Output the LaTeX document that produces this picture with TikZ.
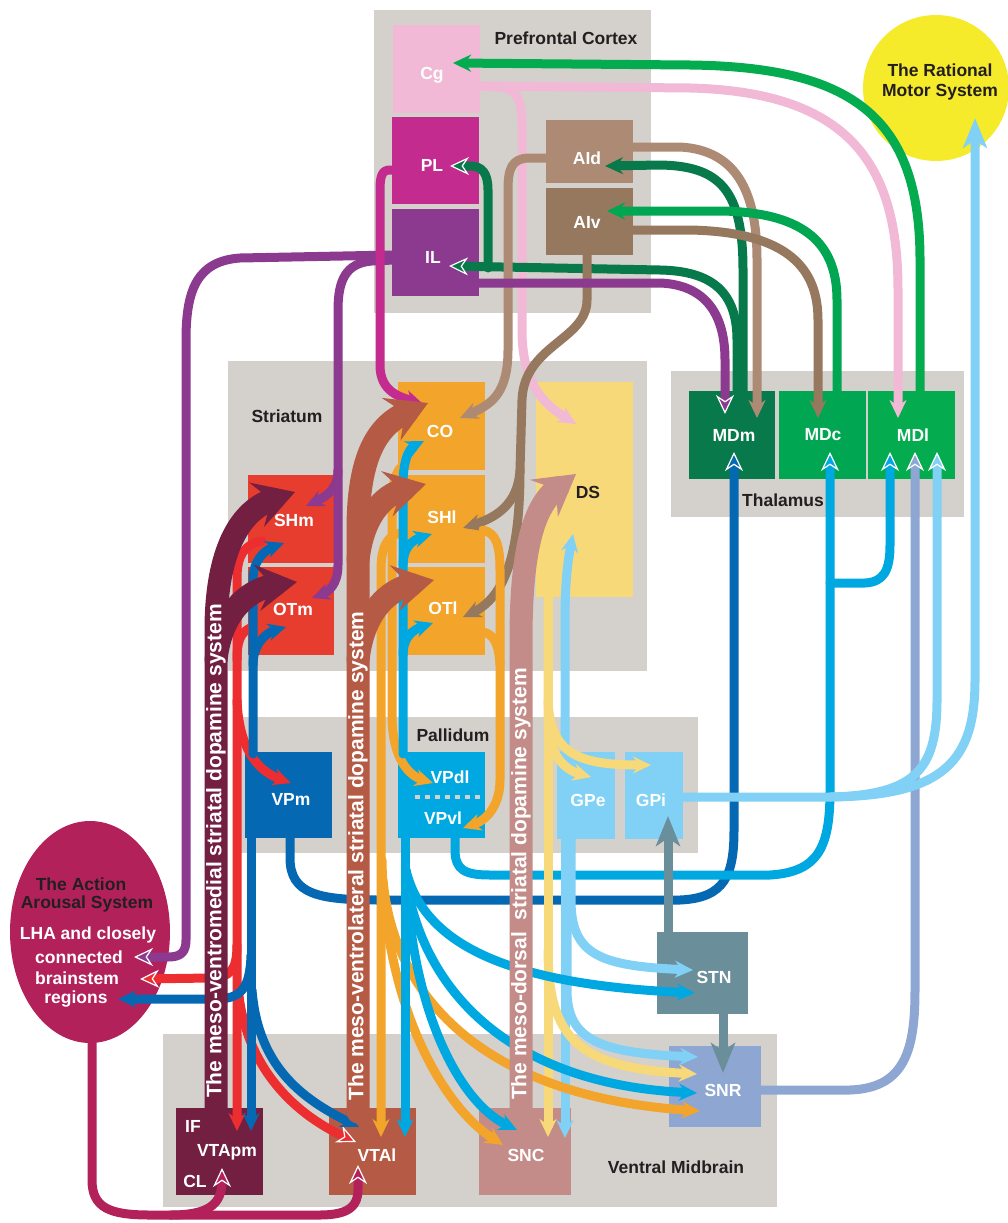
\documentclass[tikz,border=0pt]{standalone}
\usepackage{fontspec}
\setmainfont{Liberation Sans}
\usetikzlibrary{arrows.meta,shapes.geometric}
\definecolor{cgray}{HTML}{D4D0CB}
\definecolor{cCg}{HTML}{F1B9D6}
\definecolor{cPL}{HTML}{C42B8E}
\definecolor{cIL}{HTML}{8B3A8F}
\definecolor{cAId}{HTML}{AD8A74}
\definecolor{cAIv}{HTML}{96785F}
\definecolor{cMDm}{HTML}{08794A}
\definecolor{cMDc}{HTML}{00A651}
\definecolor{cMDl}{HTML}{05AB4F}
\definecolor{cYel}{HTML}{F6EB2B}
\definecolor{cRed}{HTML}{E63D2E}
\definecolor{cRedA}{HTML}{EC2E30}
\definecolor{cOr}{HTML}{F2A42B}
\definecolor{cDS}{HTML}{F8D97A}
\definecolor{cVPm}{HTML}{0568B3}
\definecolor{cVP}{HTML}{00A8E1}
\definecolor{cGP}{HTML}{80D1F5}
\definecolor{cSTN}{HTML}{6A8F9B}
\definecolor{cSNR}{HTML}{8EA6D2}
\definecolor{cVTApm}{HTML}{721F42}
\definecolor{cVTAl}{HTML}{B55B45}
\definecolor{cSNC}{HTML}{C38C88}
\definecolor{cAAS}{HTML}{B3215B}
\definecolor{cTxt}{HTML}{231F20}
\newcommand\labfont{\fontsize{17.5}{21}\selectfont\bfseries}
\newcommand\bandfont{\fontsize{21}{24}\selectfont\bfseries}
\tikzset{
  region/.style={fill=cgray, draw=none},
  box/.style={anchor=north west, inner sep=0pt, outer sep=0pt, draw=none},
  wl/.style={text=white, font=\labfont, inner sep=0pt},
  dl/.style={text=cTxt, font=\labfont, inner sep=0pt, align=center},
  bandtext/.style={rotate=90, text=white, font=\bandfont, inner sep=0pt},
  ln/.style={line width=9pt, line cap=round},
  tip/.style={-{Stealth[length=18pt,width=17pt,inset=6pt]}},
  wtip/.style={-{Stealth[length=19pt,width=18pt,inset=6pt,color=white,fill=#1,line width=1.2pt]}},
  longtip/.style={-{Stealth[length=30pt,width=24pt,inset=8pt]}},
  big/.style={line width=23pt, line cap=round, -{Stealth[length=40pt,width=46pt,inset=15pt]}},
}
\begin{document}
\begin{tikzpicture}[x=1pt,y=-1pt,line join=round]
\useasboundingbox (0,0) rectangle (1008,1223);
\clip (0,0) rectangle (1008,1223);

% regions
\fill[region] (374,10) rectangle (651,313);
\fill[region] (228,361) rectangle (647,671);
\fill[region] (671,371) rectangle (964,517);
\fill[region] (240,717) rectangle (698,853);
\fill[region] (163,1034) rectangle (777,1207);

% big round shapes
\node[circle, fill=cYel, minimum size=146pt, inner sep=0pt] (RMS) at (936,88) {};
\node[ellipse, fill=cAAS, minimum width=160pt, minimum height=222pt, inner sep=0pt] (AAS) at (90,932) {};

% boxes
\node[box, fill=cCg, minimum width=87pt, minimum height=88pt] (Cg) at (393,25) {};
\node[box, fill=cPL, minimum width=87pt, minimum height=87pt] (PL) at (392,117) {};
\node[box, fill=cIL, minimum width=87pt, minimum height=87pt] (IL) at (392,209) {};
\node[box, fill=cAId, minimum width=87pt, minimum height=63pt] (AId) at (546,120) {};
\node[box, fill=cAIv, minimum width=87pt, minimum height=67pt] (AIv) at (546,188) {};
\node[box, fill=cMDm, minimum width=86pt, minimum height=88pt] (MDm) at (689,391) {};
\node[box, fill=cMDc, minimum width=87pt, minimum height=88pt] (MDc) at (779,391) {};
\node[box, fill=cMDl, minimum width=87pt, minimum height=88pt] (MDl) at (868,391) {};
\node[box, fill=cRed, minimum width=86pt, minimum height=88pt] (SHm) at (248,475) {};
\node[box, fill=cRed, minimum width=86pt, minimum height=88pt] (OTm) at (248,567) {};
\node[box, fill=cOr, minimum width=87pt, minimum height=88pt] (CO) at (398,382) {};
\node[box, fill=cOr, minimum width=78pt, minimum height=88pt] (SHl) at (407,475) {};
\node[box, fill=cOr, minimum width=78pt, minimum height=88pt] (OTl) at (407,567) {};
\node[box, fill=cDS, minimum width=97pt, minimum height=215pt] (DS) at (536,382) {};
\node[box, fill=cVPm, minimum width=87pt, minimum height=86pt] (VPm) at (245,752) {};
\node[box, fill=cVP, minimum width=87pt, minimum height=86pt] (VP) at (398,752) {};
\node[box, fill=cGP, minimum width=58pt, minimum height=87pt] (GPe) at (557,752) {};
\node[box, fill=cGP, minimum width=58pt, minimum height=87pt] (GPi) at (625,752) {};
\node[box, fill=cSTN, minimum width=91pt, minimum height=82pt] (STN) at (657,932) {};
\node[box, fill=cSNR, minimum width=92pt, minimum height=81pt] (SNR) at (669,1046) {};
\node[box, fill=cVTApm, minimum width=87pt, minimum height=87pt] (VTApm) at (176,1108) {};
\node[box, fill=cVTAl, minimum width=87pt, minimum height=87pt] (VTAl) at (329,1108) {};
\node[box, fill=cSNC, minimum width=92pt, minimum height=87pt] (SNC) at (479,1108) {};
\draw[cgray, line width=4pt, dash pattern=on 5pt off 5pt] (415,797) coordinate (vpa) -- (484,797) coordinate (vpb);

% prefrontal <-> thalamus
\draw[ln, cMDl, tip] (920,392) -- (920,260) .. controls (920,115) and (850,67) .. (690,65) -- (453,63);
\draw[ln, cCg, tip] (478,86) -- (690,88) .. controls (850,92) and (898,165) .. (898,290) -- (898,418);
\draw[ln, cCg, tip] (478,86) -- (498,87) .. controls (517,88) and (522,100) .. (522,125) -- (522,330) .. controls (522,385) and (545,405) .. (576,424);
\draw[ln, cMDm, tip] (743,392) -- (743,270) .. controls (743,190) and (720,166) .. (660,165) -- (605,166);
\draw[ln, cMDm, wtip=cMDm] (737,392) -- (737,340) .. controls (737,292) and (712,271) .. (660,270) -- (449,266);
\draw[ln, cMDm, wtip=cMDm] (488,268) -- (488,190) .. controls (488,173) and (482,166) .. (470,166) -- (450,166);
\draw[ln, cAId, tip] (631,147) -- (680,147) .. controls (735,150) and (757,190) .. (757,260) -- (757,418);
\draw[ln, cAId, tip] (548,158) -- (528,158) .. controls (512,159) and (508,168) .. (508,190) -- (508,350) .. controls (508,395) and (490,405) .. (460,418);
\draw[ln, cAIv, tip] (631,230) -- (690,230) .. controls (790,232) and (818,270) .. (818,320) -- (818,418);
\draw[ln, cMDc, tip] (837,392) -- (837,300) .. controls (837,240) and (800,212) .. (720,211) -- (607,211);
\draw[ln, cAIv, tip] (587,253) -- (587,300) .. controls (587,340) and (524,345) .. (522,400) -- (520,470) .. controls (518,505) and (495,518) .. (463,528);
\draw[ln, cAIv, tip] (520,470) .. controls (520,540) and (510,595) .. (463,617);
\draw[ln, cIL, wtip=cIL] (477,283) -- (660,283) .. controls (710,285) and (725,320) .. (725,360) -- (725,414);
\draw[ln, cIL, wtip=cIL] (394,255) -- (240,258) .. controls (197,261) and (186,290) .. (186,340) -- (186,940) .. controls (186,953) and (180,957) .. (168,957) -- (134,957);
\draw[ln, cIL, tip] (394,260) -- (372,261) .. controls (346,263) and (338,280) .. (338,310) -- (338,470) .. controls (338,490) and (325,497) .. (306,506);
\draw[ln, cIL, tip] (338,470) -- (338,565) .. controls (338,585) and (328,592) .. (312,598);
\draw[ln, cPL, tip] (394,170) -- (390,170) .. controls (382,170) and (380,176) .. (380,190) -- (380,365) .. controls (380,392) and (400,397) .. (423,404);

% feedback to thalamus and motor system
\draw[ln, cVPm, wtip=cVPm] (290,836) -- (290,858) .. controls (290,895) and (320,900) .. (380,900) -- (680,900) .. controls (725,898) and (734,875) .. (734,830) -- (734,452);
\draw[ln, cVP, wtip=cVP] (455,836) -- (455,850) .. controls (455,870) and (465,875) .. (490,875) -- (770,875) .. controls (820,872) and (830,845) .. (830,790) -- (830,452);
\draw[ln, cVP, wtip=cVP] (830,583) -- (865,583) .. controls (884,582) and (890,570) .. (890,545) -- (890,452);
\draw[ln, cSNR, wtip=cSNR] (759,1090) -- (850,1090) .. controls (905,1088) and (915,1050) .. (915,990) -- (915,452);
\draw[ln, cGP, wtip=cGP] (681,797) -- (830,797) .. controls (915,795) and (937,770) .. (937,700) -- (937,452);
\draw[ln, cGP, longtip] (830,797) .. controls (945,796) and (975,760) .. (975,680) -- (975,118);

% STN
\draw[line width=9pt, cSTN, longtip] (668,934) -- (668,816);
\draw[line width=9pt, cSTN, longtip] (723,1012) -- (723,1073);

% GPe light blue
\draw[ln, cGP, tip] (565,754) -- (565,620) .. controls (565,575) and (569,555) .. (573,534);
\draw[ln, cGP, tip] (565,837) -- (565,1138);
\draw[ln, cGP, tip] (571,837) -- (571,900) .. controls (571,955) and (600,966) .. (693,970);
\draw[ln, cGP, tip] (567,930) -- (567,990) .. controls (567,1040) and (600,1053) .. (698,1057);

% DS yellow
\draw[ln, cDS, tip] (548,595) -- (548,720) .. controls (548,755) and (565,770) .. (591,777);
\draw[ln, cDS, tip] (548,700) .. controls (550,755) and (580,765) .. (651,765);
\draw[ln, cDS, tip] (548,595) -- (548,1137);
\draw[ln, cDS, tip] (548,950) .. controls (548,1040) and (580,1068) .. (697,1074);

% orange
\draw[ln, cOr, tip] (409,532) .. controls (388,532) and (381,545) .. (381,570) -- (381,1137);
\draw[ln, cOr, tip] (400,468) .. controls (393,478) and (392,490) .. (392,510) -- (392,715) .. controls (392,760) and (410,776) .. (433,783);
\draw[ln, cOr, tip] (382,860) .. controls (384,1000) and (440,1105) .. (503,1145);
\draw[ln, cOr, tip] (383,880) .. controls (395,1010) and (500,1098) .. (700,1111);
\draw[ln, cOr, tip] (483,530) .. controls (496,533) and (500,545) .. (500,570) -- (500,780) .. controls (500,805) and (487,820) .. (463,828);
\draw[ln, cOr] (483,632) .. controls (494,634) and (499,645) .. (500,665);

% cyan
\draw[ln, cVP, tip] (403,754) -- (403,485) .. controls (403,458) and (410,448) .. (424,441);
\draw[ln, cVP, tip] (403,565) .. controls (403,548) and (412,540) .. (432,534);
\draw[ln, cVP, tip] (403,655) .. controls (403,638) and (412,630) .. (433,623);
\draw[ln, cVP, tip] (405,836) -- (405,1137);
\draw[ln, cVP, tip] (406,870) .. controls (410,1000) and (455,1100) .. (517,1130);
\draw[ln, cVP, tip] (406,880) .. controls (425,1000) and (520,1085) .. (697,1093);
\draw[ln, cVP, tip] (406,870) .. controls (425,950) and (520,985) .. (695,993);

% red
\draw[ln, cRedA, tip] (262,541) .. controls (245,544) and (237,555) .. (237,578) -- (237,1131);
\draw[ln, cRedA] (250,628) .. controls (240,633) and (237,642) .. (237,660);
\draw[ln, cRedA, tip] (237,700) .. controls (239,752) and (260,772) .. (291,783);
\draw[ln, cRedA, wtip=cRedA] (237,945) .. controls (237,970) and (230,978) .. (210,978) -- (140,979);
\draw[ln, cRedA, wtip=cRedA] (238,985) .. controls (243,1062) and (290,1112) .. (356,1142);

% blue VPm
\draw[ln, cVPm, tip] (253,754) -- (253,665) .. controls (253,645) and (265,633) .. (286,627);
\draw[ln, cVPm, tip] (253,665) -- (253,580) .. controls (253,560) and (265,550) .. (284,543);
\draw[ln, cVPm, tip] (251,836) -- (251,1131);
\draw[ln, cVPm, tip] (251,955) .. controls (250,990) and (240,999) .. (215,999) -- (118,999);
\draw[ln, cVPm, tip] (252,990) .. controls (258,1065) and (300,1098) .. (359,1127);

% arousal system to midbrain
\draw[ln, cAAS, wtip=cAAS] (92,1040) -- (92,1180) .. controls (92,1208) and (110,1215) .. (150,1215) -- (320,1215) .. controls (350,1215) and (358,1205) .. (358,1190) -- (358,1165);
\draw[ln, cAAS, wtip=cAAS] (170,1215) .. controls (208,1215) and (222,1205) .. (222,1168);

% dopamine bands (on top of thin connectors)
\draw[big, cVTApm] (216,1112) -- (216,630) .. controls (216,560) and (235,512) .. (295,492);
\draw[big, cVTApm] (216,660) .. controls (222,605) and (255,588) .. (297,582);
\draw[big, cVTAl] (358,1112) -- (358,530) .. controls (358,455) and (378,425) .. (428,403);
\draw[big, cVTAl] (358,560) .. controls (364,508) and (390,493) .. (426,484);
\draw[big, cVTAl] (358,660) .. controls (364,605) and (395,588) .. (434,580);
\draw[big, cSNC] (521,1112) -- (521,640) .. controls (521,545) and (535,505) .. (576,474);
\node[bandtext] (b1) at (216,851) {The meso-ventromedial striatal dopamine system};
\node[bandtext] (b2) at (358,856) {The meso-ventrolateral striatal dopamine system};
\node[bandtext] (b3) at (521,884) {The meso-dorsal\ \ striatal dopamine system};

% labels
\node[dl] (tPFC) at (566,38) {Prefrontal Cortex};
\node[wl] (tCg) at (432,75) {Cg};
\node[wl] (tPL) at (432,165) {PL};
\node[wl] (tIL) at (433,257) {IL};
\node[wl] (tAId) at (587,158) {AId};
\node[wl] (tAIv) at (587,222) {AIv};
\node[dl] (tRMS) at (940,82) {The Rational\\[-1pt]Motor System};
\node[wl] (tMDm) at (734,435) {MDm};
\node[wl] (tMDc) at (823,435) {MDc};
\node[wl] (tMDl) at (913,435) {MDl};
\node[dl] (tThal) at (783,500) {Thalamus};
\node[dl] (tStr) at (287,416) {Striatum};
\node[wl] (tCO) at (440,431) {CO};
\node[wl] (tSHl) at (442,517) {SHl};
\node[wl] (tOTl) at (443,608) {OTl};
\node[dl] (tDS) at (588,492) {DS};
\node[wl] (tSHm) at (294,520) {SHm};
\node[wl] (tOTm) at (293,609) {OTm};
\node[dl] (tPall) at (453,735) {Pallidum};
\node[wl] (tVPm) at (291,799) {VPm};
\node[wl] (tVPdl) at (450,777) {VPdl};
\node[wl] (tVPvl) at (443,818) {VPvl};
\node[wl] (tGPe) at (588,800) {GPe};
\node[wl] (tGPi) at (651,800) {GPi};
\node[wl] (tSTN) at (714,977) {STN};
\node[wl] (tSNR) at (723,1090) {SNR};
\node[wl] (tSNC) at (526,1155) {SNC};
\node[wl] (tVTAl) at (377,1155) {VTAl};
\node[dl] (tVM) at (676,1167) {Ventral Midbrain};
\node[wl] (tIF) at (193,1126) {IF};
\node[wl] (tVTApm) at (227,1152) {VTApm};
\node[wl] (tCL) at (195,1181) {CL};
\node[dl] (tAAS1) at (81,884) {The Action};
\node[dl] (tAAS2) at (87,904) {Arousal System};
\node[wl] (tL1) at (88,935) {LHA and closely};
\node[wl] (tL2) at (79,957) {connected};
\node[wl] (tL3) at (77,978) {brainstem};
\node[wl] (tL4) at (76,999) {regions};
\end{tikzpicture}
\end{document}
